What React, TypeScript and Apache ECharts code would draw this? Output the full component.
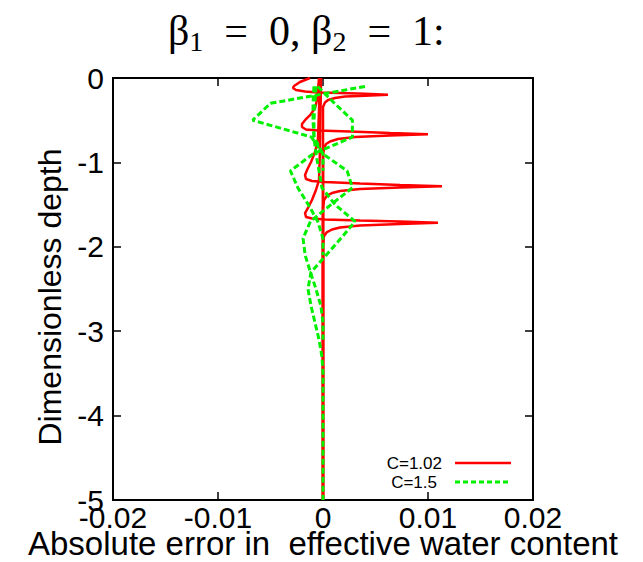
import React, { useEffect, useRef } from "react";
import * as echarts from "echarts";

// Red curves (C=1.02): [absolute error, dimensionless depth]
const red1: [number, number][] = [
  [-0.00124, 0], [-0.00219, -0.047], [-0.00276, -0.095], [-0.00286, -0.118], [-0.00257, -0.142],
  [-0.00171, -0.16], [-0.00048, -0.172], [0.00162, -0.178], [0.004, -0.187], [0.00619, -0.199],
  [0.004, -0.209], [0.0021, -0.219], [0.00114, -0.237], [0.00048, -0.261], [0.00019, -0.29],
  [0, -0.344], [0, -5],
];
const red2: [number, number][] = [
  [-0.00038, 0], [-0.00048, -0.142], [-0.00057, -0.261], [-0.00076, -0.355], [-0.00114, -0.427],
  [-0.00162, -0.486], [-0.002, -0.545], [-0.002, -0.581], [-0.00162, -0.61], [-0.00048, -0.622],
  [0.00257, -0.634], [0.00638, -0.652], [0.01, -0.667], [0.00638, -0.681], [0.00305, -0.699],
  [0.00143, -0.723], [0.00067, -0.752], [0.00029, -0.782], [0.0001, -0.829], [0, -0.912], [0, -5],
];
const red3: [number, number][] = [
  [-0.00029, 0], [-0.00038, -0.379], [-0.00048, -0.735], [-0.00076, -0.877], [-0.00114, -0.995],
  [-0.00152, -1.09], [-0.00171, -1.149], [-0.00162, -1.197], [-0.00105, -1.22], [0.00019, -1.232],
  [0.00352, -1.25], [0.00733, -1.268], [0.01133, -1.283], [0.00733, -1.297], [0.00352, -1.315],
  [0.00162, -1.339], [0.00086, -1.363], [0.00038, -1.392], [0.0001, -1.445], [0, -1.54], [0, -5],
];
const red4: [number, number][] = [
  [-0.00019, 0], [-0.00029, -0.853], [-0.00038, -1.209], [-0.00067, -1.327], [-0.00105, -1.445],
  [-0.00143, -1.54], [-0.00171, -1.6], [-0.00162, -1.647], [-0.00105, -1.665], [0.00019, -1.677],
  [0.00352, -1.688], [0.00733, -1.7], [0.01095, -1.714], [0.00733, -1.73], [0.00352, -1.748],
  [0.00162, -1.771], [0.00086, -1.795], [0.00038, -1.825], [0.0001, -1.872], [0, -1.967], [0, -5],
];

// Green curves (C=1.5), sampled at these depths (null = not drawn past its return to zero)
const greenDepths = [-0.1, -0.3, -0.5, -0.7, -0.9, -1.1, -1.3, -1.5, -1.7, -1.9, -2.1, -2.3, -2.5, -2.7, -2.9, -3.1, -3.3, -3.5, -5.0];
const green1 = [0.004, -0.005, -0.0067, -0.0011, 0, 0, null, null, null, null, null, null, null, null, null, null, null, null, null];
const green2 = [-0.0005, 0.0011, 0.0028, 0.0028, -0.00095, -0.0031, -0.0024, -0.0014, -0.0005, 0, 0, null, null, null, null, null, null, null, null];
const green3 = [-0.00086, -0.00095, -0.00095, -0.00086, 0, 0.0023, 0.0028, 0.00076, -0.0012, -0.0019, -0.0017, -0.0012, -0.00067, -0.0002, 0, 0, null, null, null];
const green4 = [-0.00067, -0.00076, -0.00086, -0.00086, -0.00067, -0.00038, -0.0001, 0.00114, 0.00305, 0.00171, 0.00029, -0.00114, -0.00143, -0.00114, -0.00076, -0.00038, -0.0001, 0, 0];

const xTickLabels = ["-0.02", "-0.01", "0", "0.01", "0.02"];
const yTickLabels = ["-5", "-4", "-3", "-2", "-1", "0"];
const legendLabels = ["C=1.02", "C=1.5"];

const RED = "#ff0000";
const GREEN = "#00f000";

export default function App() {
  const ref = useRef<HTMLDivElement>(null);
  useEffect(() => {
    if (!ref.current) return;
    const chart = echarts.init(ref.current, undefined, { renderer: "svg" });
    const redSeries = [red1, red2, red3, red4].map((d) => ({
      name: legendLabels[0],
      type: "line",
      data: d,
      symbol: "none",
      lineStyle: { color: RED, width: 2.5 },
      itemStyle: { color: RED },
      z: 2,
    }));
    const greenSeries = [green1, green2, green3, green4].map((vals) => ({
      name: legendLabels[1],
      type: "line",
      data: vals
        .map((v, i) => (v === null ? null : [v, greenDepths[i]]))
        .filter((p) => p !== null),
      symbol: "none",
      lineStyle: { color: GREEN, width: 3, type: [6, 3] },
      itemStyle: { color: GREEN },
      z: 3,
    }));
    const axisCommon = {
      type: "value",
      axisLine: { show: false, onZero: false },
      splitLine: { show: false },
      axisTick: { show: true, inside: true, length: 8, lineStyle: { color: "#000", width: 1.5 } },
    };
    const legendText = (text: string, x: number, y: number) => ({
      type: "text",
      x, y,
      style: { text, fill: "#000", font: '17px "Liberation Sans"', align: "right", verticalAlign: "middle" },
    });
    chart.setOption({
      animation: false,
      backgroundColor: "#fff",
      title: {
        text: "{b|β}{s|1}{b|\u2002=\u20020, β}{s|2}{b|\u2002=\u20021:}",
        left: 163,
        top: 5,
        textStyle: {
          fontWeight: "normal",
          rich: {
            b: { fontFamily: "Liberation Serif", fontSize: 42, fontWeight: "normal", lineHeight: 44, color: "#000", verticalAlign: "top" },
            s: { fontFamily: "Liberation Serif", fontSize: 28, fontWeight: "normal", lineHeight: 28, color: "#000", padding: [17, 0, 0, 0], verticalAlign: "top" },
          },
        },
      },
      grid: {
        left: 113, right: 110, top: 78, bottom: 62,
        outerBoundsMode: "none",
        containLabel: false,
        show: true, borderColor: "#000", borderWidth: 2, backgroundColor: "transparent",
      },
      graphic: [
        legendText(legendLabels[0], 442, 463),
        { type: "line", shape: { x1: 455, y1: 463, x2: 511, y2: 463 }, style: { stroke: RED, lineWidth: 2.5 } },
        legendText(legendLabels[1], 437, 482),
        { type: "line", shape: { x1: 455, y1: 482, x2: 511, y2: 482 }, style: { stroke: GREEN, lineWidth: 3, lineDash: [5, 3] } },
      ],
      xAxis: [
        {
          ...axisCommon,
          min: -0.02, max: 0.02, interval: 0.01,
          position: "bottom",
          name: "Absolute error in  effective water content",
          nameLocation: "middle",
          nameGap: 43,
          nameMoveOverlap: false,
          nameTextStyle: { fontSize: 33, fontFamily: "Liberation Sans", color: "#000", verticalAlign: "middle" },
          axisLabel: {
            margin: 3, fontSize: 30, lineHeight: 28, fontFamily: "Liberation Sans", color: "#000",
            formatter: (_v: number, i: number) => xTickLabels[i],
          },
        },
        {
          ...axisCommon,
          min: -0.02, max: 0.02, interval: 0.01,
          position: "top",
          axisLabel: { show: false },
        },
      ],
      yAxis: [
        {
          ...axisCommon,
          min: -5, max: 0, interval: 1,
          position: "left",
          name: "Dimensionless depth",
          nameLocation: "middle",
          nameGap: 46,
          nameTextStyle: { fontSize: 32, fontFamily: "Liberation Sans", color: "#000", padding: [0, 16, 0, 0] },
          axisLabel: {
            margin: 9, fontSize: 30, fontFamily: "Liberation Sans", color: "#000",
            formatter: (_v: number, i: number) => yTickLabels[i],
          },
        },
        {
          ...axisCommon,
          min: -5, max: 0, interval: 1,
          position: "right",
          axisLabel: { show: false },
        },
      ],
      series: [...redSeries, ...greenSeries],
    });
    return () => chart.dispose();
  }, []);
  return <div ref={ref} style={{ position: "absolute", left: 0, top: 0, width: 643, height: 562 }} />;
}
